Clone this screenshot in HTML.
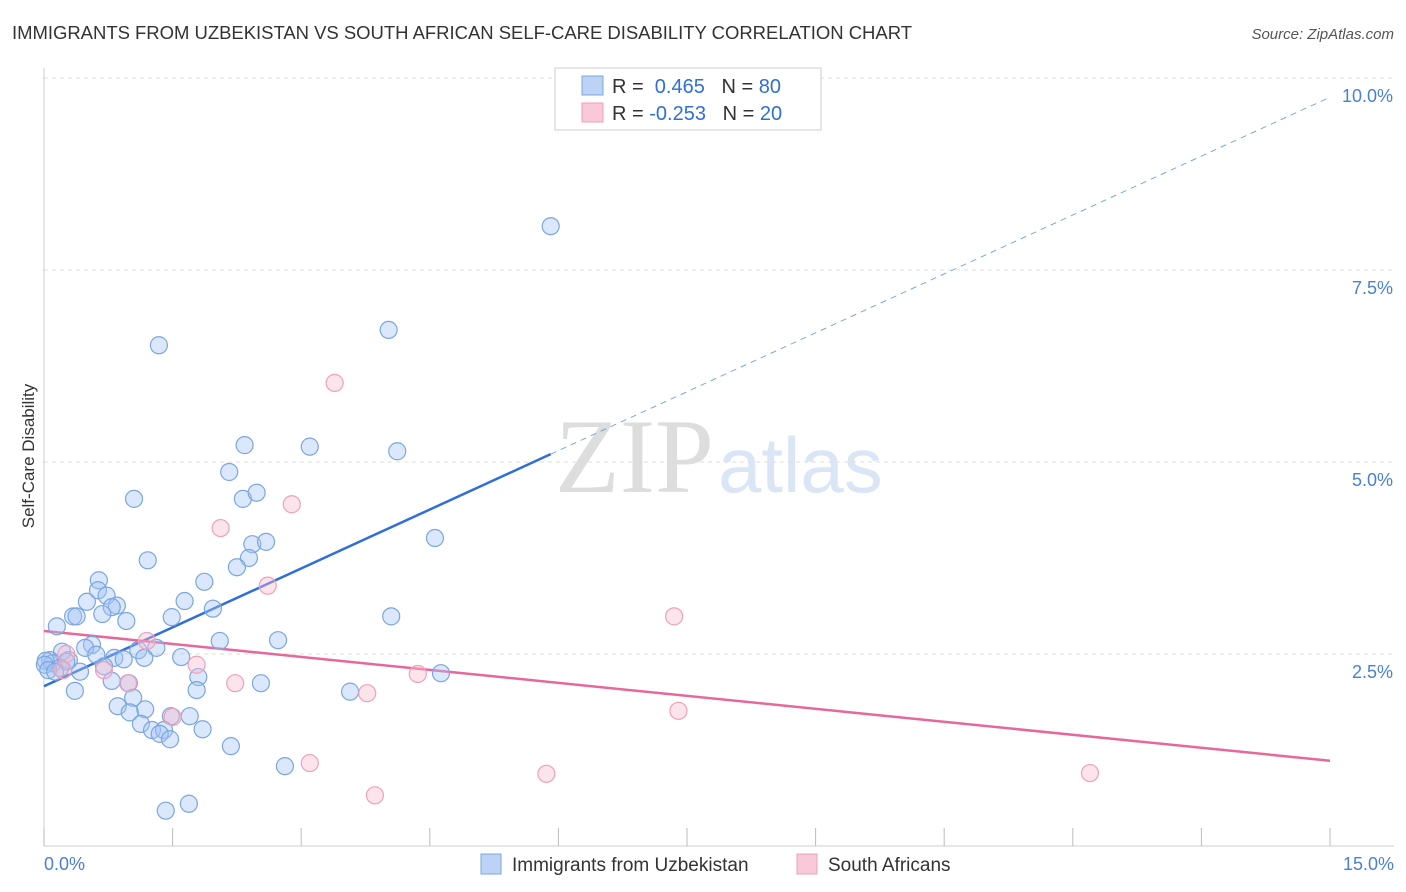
<!DOCTYPE html>
<html><head><meta charset="utf-8"><style>
body{margin:0;background:#fff;font-family:"Liberation Sans",sans-serif;}
svg{display:block}
</style></head><body>
<svg id="chart" width="1406" height="892" xmlns="http://www.w3.org/2000/svg">
<text x="12" y="39" font-size="18.5" fill="#333" textLength="900">IMMIGRANTS FROM UZBEKISTAN VS SOUTH AFRICAN SELF-CARE DISABILITY CORRELATION CHART</text>
<text x="1394" y="39" font-size="15" fill="#555" text-anchor="end" font-style="italic">Source: ZipAtlas.com</text>
<text transform="translate(34,456) rotate(-90)" font-size="17" fill="#333" text-anchor="middle">Self-Care Disability</text>
<g>
<text x="555" y="492" font-size="106" fill="#ddd" font-family="Liberation Serif,serif">ZIP</text>
<text x="718" y="492" font-size="78" fill="#dae5f5">atlas</text>
</g>
<g id="grid"></g><g id="axes"></g><g id="trends"></g><g id="points"></g>
<g>
<rect x="555" y="68" width="266" height="62" fill="#fff" stroke="#ccc"/>
<rect x="582" y="76" width="21" height="19" fill="#bcd3f5" stroke="#7aa7e0"/>
<rect x="582" y="103" width="21" height="19" fill="#f9c9d9" stroke="#f0a0b8"/>
<text x="612" y="93" font-size="20" fill="#333">R = <tspan fill="#2f6fd6">&#160;0.465</tspan>&#160;&#160;&#160;N = <tspan fill="#2f6fd6">80</tspan></text>
<text x="612" y="120" font-size="20" fill="#333">R = <tspan fill="#2f6fd6">-0.253</tspan>&#160;&#160;&#160;N = <tspan fill="#2f6fd6">20</tspan></text>
</g>
<g>
<rect x="481" y="854" width="20" height="20" fill="#bcd3f5" stroke="#7aa7e0"/>
<text x="512" y="871" font-size="19" fill="#333">Immigrants from Uzbekistan</text>
<rect x="797" y="854" width="20" height="20" fill="#f9c9d9" stroke="#f0a0b8"/>
<text x="828" y="871" font-size="19" fill="#333">South Africans</text>
</g>
</svg>
<script>
const xTicks=[0,1.5,3,4.5,6,7.5,9,10.5,12,13.5,15];
const yTicks=[2.5,5,7.5,10];
const yTickLabels=["2.5%","5.0%","7.5%","10.0%"];
const blueX=[5.91,1.34,4.02,3.10,4.12,2.34,2.16,1.05,2.32,2.48,4.56,2.43,2.59,1.21,2.39,2.25,1.87,0.64,0.63,0.73,0.50,0.85,0.79,1.64,1.97,0.34,0.38,0.68,1.49,0.96,0.15,4.05,2.05,2.73,0.56,0.48,1.10,1.31,0.21,0.61,0.29,0.07,0.10,0.02,0.82,0.93,1.17,1.60,0.19,0.42,0.70,0.79,1.80,0.99,2.53,4.63,0.36,1.78,3.57,1.04,0.86,1.18,1.00,1.48,1.70,1.13,1.26,1.40,1.35,1.47,1.85,2.18,2.81,1.69,1.42,0.01,0.05,0.26,0.13];
const blueY=[8.07,6.52,6.72,5.20,5.14,5.22,4.87,4.52,4.52,4.60,4.01,3.93,3.96,3.72,3.75,3.63,3.44,3.46,3.33,3.26,3.18,3.13,3.11,3.19,3.09,2.99,2.99,3.02,2.98,2.93,2.86,2.99,2.67,2.68,2.62,2.58,2.55,2.58,2.53,2.49,2.42,2.42,2.38,2.41,2.45,2.43,2.45,2.46,2.32,2.27,2.34,2.15,2.20,2.12,2.12,2.25,2.02,2.03,2.01,1.93,1.82,1.78,1.74,1.69,1.69,1.59,1.51,1.51,1.46,1.39,1.52,1.30,1.04,0.55,0.46,2.36,2.29,2.40,2.27];
const pinkX=[3.39,2.89,2.06,2.61,7.35,1.20,1.78,0.26,0.70,0.98,2.23,3.77,4.36,7.40,1.50,3.10,5.86,3.86,12.20,0.22];
const pinkY=[6.03,4.45,4.14,3.39,2.99,2.67,2.36,2.50,2.29,2.12,2.12,1.99,2.24,1.76,1.68,1.08,0.94,0.66,0.95,2.29];
const blueTrend=[2.08,9.75], blueSolidEnd=5.91;
const pinkTrend=[2.80,1.11];
const X=v=>44+v/15*1286, Y=v=>846-v*76.8;
const NS="http://www.w3.org/2000/svg";
function mk(parent,tag,attrs){const e=document.createElementNS(NS,tag);for(const k in attrs)e.setAttribute(k,attrs[k]);document.getElementById(parent).appendChild(e);return e;}
yTicks.forEach((t,i)=>{
 const g=mk('grid','line',{x1:44,x2:1394,y1:Y(t),y2:Y(t),stroke:'#ddd','stroke-dasharray':'4,4'});
 
 
 const l=mk('axes','text',{x:1393,y:Y(t)+24,'font-size':18,fill:'#4a7fd4','text-anchor':'end'});
 l.textContent=yTickLabels[i];
 
 
});
const ax=mk('axes','line',{x1:44,x2:44,y1:68,y2:846,stroke:'#ccc'});


const bx=mk('axes','line',{x1:44,x2:1394,y1:846,y2:846,stroke:'#ccc'});


xTicks.forEach(t=>{
 const e=mk('axes','line',{x1:X(t),x2:X(t),y1:828,y2:846,stroke:'#bbb'});
 
 
});
const xl0=mk('axes','text',{x:44,y:870,'font-size':18,fill:'#4a7fd4'});xl0.textContent='0.0%';


const xl1=mk('axes','text',{x:1394,y:870,'font-size':18,fill:'#4a7fd4','text-anchor':'end'});xl1.textContent='15.0%';


const bslope=(blueTrend[1]-blueTrend[0])/15;
const b1=mk('trends','line',{x1:X(0),y1:Y(blueTrend[0]),x2:X(blueSolidEnd),y2:Y(blueTrend[0]+bslope*blueSolidEnd),stroke:'#2f6fd6','stroke-width':2.5});


const b2=mk('trends','line',{x1:X(blueSolidEnd),y1:Y(blueTrend[0]+bslope*blueSolidEnd),x2:X(15),y2:Y(blueTrend[1]),stroke:'#7aa7e0','stroke-width':1,'stroke-dasharray':'6,5'});


const p1=mk('trends','line',{x1:X(0),y1:Y(pinkTrend[0]),x2:X(15),y2:Y(pinkTrend[1]),stroke:'#e8679a','stroke-width':2.5});


blueX.forEach((v,i)=>{
 const c=mk('points','circle',{cx:X(v),cy:Y(blueY[i]),r:8.5,fill:'rgba(164,194,244,0.4)',stroke:'#7aa7e0','stroke-width':1.2});
 
 
});
pinkX.forEach((v,i)=>{
 const c=mk('points','circle',{cx:X(v),cy:Y(pinkY[i]),r:8.5,fill:'rgba(248,187,208,0.4)',stroke:'#f0a0b8','stroke-width':1.2});
 
 
});
</script>
</body></html>
